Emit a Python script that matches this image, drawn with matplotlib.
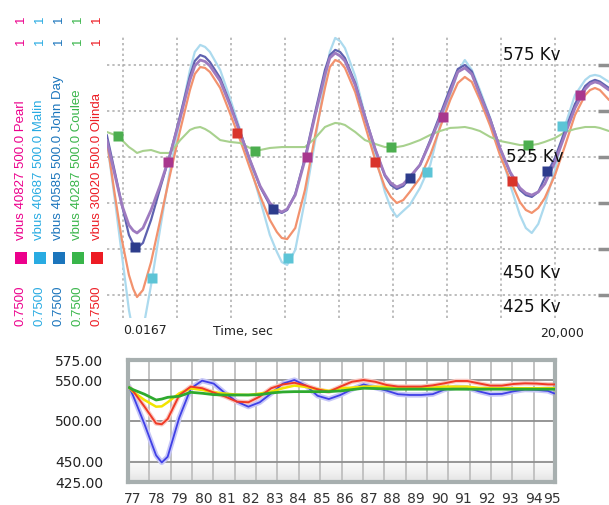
import numpy as np
import matplotlib
matplotlib.use("Agg")
import matplotlib.pyplot as plt
from matplotlib.patches import Rectangle

# ---- top panel: bus voltage (kV) vs time (grid divisions) ----
t_top = [-0.30, -0.15, -0.02, 0.11, 0.19, 0.26, 0.37, 0.52, 0.69, 0.87,
         1.06, 1.24, 1.33, 1.43, 1.52, 1.61, 1.80, 1.98, 2.17, 2.35,
         2.54, 2.72, 2.85, 2.94, 3.04, 3.19, 3.37, 3.56, 3.74, 3.83,
         3.93, 4.02, 4.11, 4.30, 4.48, 4.67, 4.85, 4.96, 5.07, 5.19,
         5.31, 5.50, 5.69, 5.87, 6.06, 6.20, 6.33, 6.46, 6.61, 6.80,
         6.98, 7.17, 7.35, 7.46, 7.57, 7.69, 7.81, 8.00, 8.19, 8.37,
         8.56, 8.65, 8.74, 8.83, 9.00]

pearl_kv = [534.2, 515.2, 498.9, 488.0, 485.0, 483.7, 486.4, 496.2, 509.8, 526.1,
            546.2, 566.9, 574.5, 577.7, 576.9, 574.5, 566.3, 553.3, 538.0, 523.4,
            509.2, 500.0, 496.5, 495.1, 496.7, 504.3, 523.4, 547.8, 569.6, 578.8,
            581.5, 579.9, 577.2, 564.1, 546.7, 529.3, 515.2, 510.9, 508.7, 510.3,
            514.1, 520.7, 533.2, 546.2, 560.3, 571.2, 573.4, 570.0, 558.7, 545.1,
            529.9, 516.8, 508.2, 505.4, 504.3, 506.0, 510.3, 522.3, 537.5, 551.6,
            561.9, 564.7, 565.8, 565.0, 561.4]

johnday_kv = [537.0, 516.8, 498.9, 482.6, 477.7, 475.5, 478.3, 490.8, 508.2, 526.1,
              547.8, 569.0, 577.2, 580.4, 579.4, 576.6, 567.9, 554.3, 538.6, 523.4,
              508.7, 498.9, 495.7, 494.6, 496.2, 504.9, 524.5, 549.5, 572.3, 580.4,
              583.2, 582.1, 578.8, 565.2, 547.3, 529.3, 514.7, 509.8, 507.6, 509.2,
              513.6, 520.7, 534.2, 547.8, 562.5, 572.8, 575.0, 571.5, 559.8, 545.7,
              529.9, 516.3, 507.1, 504.3, 503.3, 506.0, 513.6, 524.5, 539.7, 553.8,
              563.6, 565.8, 566.9, 566.0, 562.5]

malin_kv = [534.2, 501.6, 471.7, 441.8, 429.3, 422.8, 431.0, 455.4, 486.4, 517.9,
            546.2, 572.3, 582.1, 585.9, 584.8, 582.1, 572.3, 557.1, 539.7, 520.7,
            501.6, 482.6, 473.4, 467.9, 466.3, 474.5, 501.6, 534.2, 566.9, 582.1,
            589.7, 588.0, 584.2, 569.0, 547.8, 526.1, 506.0, 497.3, 492.4, 495.7,
            498.9, 508.2, 520.7, 542.4, 558.7, 571.2, 577.7, 572.3, 561.4, 546.2,
            528.8, 509.8, 493.5, 486.4, 483.7, 488.6, 498.9, 517.9, 542.4, 558.7,
            566.9, 569.0, 569.6, 569.0, 565.8]

olinda_kv = [534.2, 504.3, 479.9, 460.9, 453.3, 448.9, 452.7, 467.9, 490.8, 515.2,
             539.7, 561.4, 570.1, 573.9, 573.4, 571.2, 562.5, 548.9, 534.2, 519.0,
             503.8, 490.8, 484.2, 481.0, 480.4, 486.4, 507.1, 537.0, 562.5, 573.9,
             577.7, 576.6, 573.4, 560.3, 542.4, 523.4, 508.7, 503.3, 500.0, 501.6,
             506.0, 513.6, 526.1, 540.8, 556.0, 565.2, 568.5, 565.8, 556.0, 541.9,
             526.1, 512.5, 500.5, 496.2, 494.6, 497.3, 502.7, 515.2, 531.5, 547.8,
             558.7, 561.4, 562.5, 561.4, 556.0]

coulee_kv = [538.6, 537.0, 534.2, 530.4, 528.8, 527.2, 528.3, 528.8, 527.2, 527.2,
             534.2, 539.7, 540.8, 541.3, 540.2, 538.6, 534.2, 533.2, 532.6, 529.9,
             528.8, 529.9, 530.2, 530.4, 530.4, 530.4, 530.4, 535.3, 541.3, 542.4,
             543.5, 543.2, 542.4, 538.6, 534.2, 532.1, 530.4, 530.4, 530.4, 531.0,
             532.1, 534.2, 537.0, 539.1, 540.8, 541.0, 541.3, 540.5, 539.1, 535.9,
             533.7, 532.6, 531.5, 531.5, 531.5, 532.1, 533.2, 535.3, 538.6, 540.2,
             541.3, 541.3, 541.3, 540.8, 539.1]

# sample markers along each trace
pearl_mt, pearl_mv = [0.83, 3.41, 5.93, 8.46], [522.3, 525.0, 546.7, 558.7]
malin_mt, malin_mv = [0.54, 3.06, 5.63, 8.13], [459.2, 470.1, 516.8, 541.9]
johnday_mt, johnday_mv = [0.22, 2.78, 5.31, 7.85], [476.1, 496.7, 513.6, 517.4]
coulee_mt, coulee_mv = [-0.09, 2.44, 4.96, 7.50], [536.4, 528.3, 530.4, 531.5]
olinda_mt, olinda_mv = [2.11, 4.67, 7.20], [538.0, 522.3, 512.0]

bus_names = ["Pearl", "Malin", "John Day", "Coulee", "Olinda"]
bus_ids = ["40827", "40687", "40585", "40287", "30020"]
bus_colors = ["#ec008c", "#29abe2", "#1b75bc", "#39b54a", "#ed1c24"]

kv_levels = [575, 550, 525, 500, 475, 450]

# ---- bottom panel ----
t_bot = [76.86, 77.01, 77.50, 77.99, 78.23, 78.48, 78.97, 79.46, 79.94, 80.43,
         80.92, 81.41, 81.90, 82.38, 82.87, 83.36, 83.85, 84.34, 84.83, 85.31,
         85.80, 86.29, 86.78, 87.27, 87.75, 88.24, 88.73, 89.22, 89.71, 90.20,
         90.69, 91.17, 91.66, 92.15, 92.64, 93.13, 93.62, 94.11, 94.59, 94.85]

blue_kv = [541, 531.6, 496, 457.8, 449, 456, 504, 540, 549.6, 546,
           534, 523.8, 517.6, 523, 534, 546, 550.4, 543.5, 531, 527,
           532, 539, 545, 541, 537.4, 532.9, 532, 532, 533, 538.6,
           541.5, 541, 536.5, 533, 533.3, 536.5, 538.6, 538.2, 537, 534]
red_kv = [541, 537, 517.6, 497, 496, 502.5, 531.6, 542.3, 540.3, 535,
          530, 523.8, 523, 530, 540.3, 545, 547, 543.5, 539, 536,
          542.3, 548.3, 550.4, 548.3, 544.3, 542.3, 542.3, 542.3, 543.8, 546.3,
          549.2, 549.2, 546.3, 543.5, 543.5, 545.5, 546.3, 546, 545, 545]
yellow_kv = [541, 536, 525.8, 517.6, 518, 523, 534, 540, 538.2, 535.3,
             533.7, 532.4, 532, 533.7, 536.1, 540.3, 543.5, 541.9, 539, 537,
             540.3, 541, 542.3, 542.3, 541.9, 540.3, 540.3, 540.3, 541, 542.3,
             542.3, 542.3, 540.7, 540.3, 540.3, 540.3, 540.3, 540.3, 540.3, 540.3]
green_kv = [541, 538.6, 532.9, 525.8, 527, 529.1, 530.4, 535.3, 534.1, 532.4,
            532, 532, 532, 532.4, 534.5, 535.7, 536.1, 536.1, 536.1, 536.1,
            537, 538.6, 540.3, 539.9, 539.5, 539.1, 539.1, 539.1, 539.1, 539.1,
            539.1, 539.1, 539.1, 539.1, 539.1, 539.1, 539.1, 539.1, 539.1, 539.1]

bot_yticks = [575, 550, 500, 450, 425]
bot_xlabels = list(range(77, 96))


def main():
    W, H = 609, 505
    fig = plt.figure(figsize=(W / 100, H / 100), dpi=100)

    # ---------------- top panel ----------------
    ax = fig.add_axes([107 / W, 1 - 318 / H, 502 / W, 283 / H])
    ax.set_xlim(-0.296, 9.0)
    ax.set_ylim(437.5, 591.3)
    for s in ax.spines.values():
        s.set_visible(False)
    for k in range(9):
        ax.axvline(k, color="#ababab", lw=1.1, ls=(0, (1.5, 2)), zorder=0)
    for v in kv_levels:
        ax.axhline(v, color="#ababab", lw=1.1, ls=(0, (1.5, 2)), zorder=0)
    ax.set_xticks([])
    ax.yaxis.tick_right()
    ax.set_yticks(kv_levels)
    ax.tick_params(axis="y", right=True, left=False, labelright=False,
                   direction="in", length=8, width=2.5, color="#8f8f8f")

    lk = dict(solid_joinstyle="round", solid_capstyle="round")
    ax.plot(t_top, malin_kv, color="#acdaee", lw=1.6, **lk)
    ax.plot(t_top, olinda_kv, color="#f2926e", lw=1.6, **lk)
    ax.plot(t_top, coulee_kv, color="#a8d18e", lw=1.5, **lk)
    ax.plot(t_top, johnday_kv, color="#5f62b0", lw=1.6, **lk)
    ax.plot(t_top, pearl_kv, color="#9e7bc0", lw=2.0, **lk)

    ms = 6.5
    ax.plot(pearl_mt, pearl_mv, "s", ms=ms, color="#a8378e", mec="none")
    ax.plot(malin_mt, malin_mv, "s", ms=ms, color="#5cc4d6", mec="none")
    ax.plot(johnday_mt, johnday_mv, "s", ms=ms, color="#2d3c8c", mec="none")
    ax.plot(coulee_mt, coulee_mv, "s", ms=ms, color="#4cae4f", mec="none")
    ax.plot(olinda_mt, olinda_mv, "s", ms=ms, color="#d9342b", mec="none")

    for lab, tx, ty in [("575 Kv", 7.04, 580.4), ("525 Kv", 7.09, 525.0),
                        ("450 Kv", 7.04, 461.9), ("425 Kv", 7.04, 443.5)]:
        ax.text(tx, ty, lab, fontsize=12, va="center", ha="left", color="#111111")

    fig.text(123 / W, 1 - 331 / H, "0.0167", fontsize=9, va="center", color="#222222")
    fig.text(213 / W, 1 - 331 / H, "Time, sec", fontsize=9, va="center", color="#222222")
    fig.text(540 / W, 1 - 333 / H, "20,000", fontsize=9, va="center", color="#222222")

    # ---------------- rotated legend ----------------
    axl = fig.add_axes([0, 0, 1, 1])
    axl.set_xlim(0, W)
    axl.set_ylim(H, 0)
    axl.axis("off")
    cols_x = [21, 39.5, 58.5, 77.5, 97]
    for x, name, bid, c in zip(cols_x, bus_names, bus_ids, bus_colors):
        kw = dict(rotation=90, rotation_mode="anchor", va="center", color=c,
                  fontsize=9.5, family=["Liberation Sans", "DejaVu Sans"])
        axl.text(x, 326, "0.7500", ha="left", **kw)
        axl.add_patch(Rectangle((x - 6, 252), 12, 12, color=c, lw=0))
        axl.text(x, 240, "vbus " + bid + " 500.0 " + name, ha="left", **kw)
        axl.text(x, 41, "1", ha="center", **kw)
        axl.text(x, 19, "1", ha="center", **kw)

    # ---------------- bottom panel ----------------
    ax2 = fig.add_axes([128 / W, 1 - 482 / H, 427 / W, 122 / H])
    x0, x1 = 76.80, 94.89
    ax2.set_xlim(x0, x1)
    ax2.set_ylim(425, 575)
    grad = np.linspace(0, 1, 50).reshape(-1, 1)
    ax2.imshow(grad, extent=[x0, x1, 425, 452], aspect="auto", cmap="Greys",
               vmin=-0.2, vmax=6, origin="upper", zorder=0)
    for gx in np.linspace(x0, x1, 21):
        ax2.axvline(gx, color="#c2c2c2", lw=1.4, zorder=1)
    for gy in [550, 500, 450]:
        ax2.axhline(gy, color="#8e8e8e", lw=1.3, zorder=1)

    ax2.plot(t_bot, blue_kv, color="#c6c6f7", lw=3.8, zorder=2)
    ax2.plot(t_bot, red_kv, color="#f8c8c2", lw=3.2, zorder=2)
    ax2.plot(t_bot, blue_kv, color="#4040e6", lw=1.3, zorder=3)
    ax2.plot(t_bot, yellow_kv, color="#f2e400", lw=1.8, zorder=3)
    ax2.plot(t_bot, red_kv, color="#f03a26", lw=1.4, zorder=3)
    ax2.plot(t_bot, green_kv, color="#2eaa2e", lw=2.0, zorder=4)

    for s in ax2.spines.values():
        s.set_color("#a7afaf")
        s.set_linewidth(3)
    ax2.set_yticks(bot_yticks)
    ax2.set_yticklabels([f"{v:.2f}" for v in bot_yticks], fontsize=10, color="#222222")
    # the last label is squeezed against the frame in the original
    tick_pos = bot_xlabels[:-1] + [94.76]
    ax2.set_xticks(tick_pos)
    ax2.set_xticklabels([str(v) for v in bot_xlabels], fontsize=10, color="#333333")
    ax2.tick_params(axis="y", length=0, pad=18)
    ax2.tick_params(axis="x", length=0, pad=7)

    fig.savefig("out.png", dpi=100)


if __name__ == "__main__":
    main()
